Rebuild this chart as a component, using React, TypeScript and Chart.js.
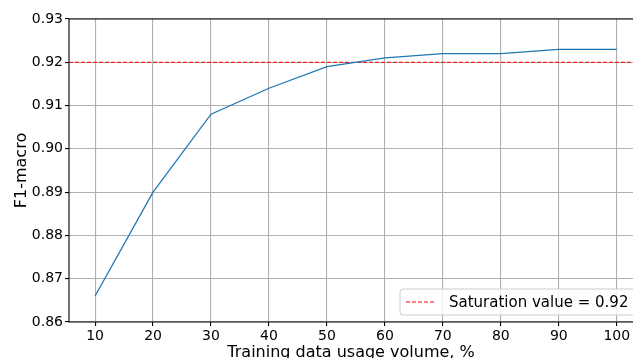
import React, { useEffect, useRef } from "react";
import { Chart, registerables } from "chart.js";

Chart.register(...registerables);

const USAGE = [10, 20, 30, 40, 50, 60, 70, 80, 90, 100];
const F1_MACRO = [0.866, 0.890, 0.908, 0.914, 0.919, 0.921, 0.922, 0.922, 0.923, 0.923];
const SATURATION = 0.92;
const X_TICKS = [10, 20, 30, 40, 50, 60, 70, 80, 90, 100];
const Y_TICKS = [0.86, 0.87, 0.88, 0.89, 0.90, 0.91, 0.92, 0.93];
const X_MIN = 5.5;
const X_MAX = 102.8;
const LEGEND_LABEL = "Saturation value = 0.92";
const X_TITLE = "Training data usage volume, %";
const Y_TITLE = "F1-macro";

const W = 633;
const H = 358;
const FONT = "DejaVu Sans";

const overlay = {
  id: "mplOverlay",
  afterDatasetsDraw(chart: any) {
    const { ctx, chartArea } = chart;
    const { left, right, top, bottom } = chartArea;
    ctx.save();
    // spines
    ctx.strokeStyle = "#000";
    ctx.lineWidth = 1.1;
    ctx.beginPath();
    ctx.moveTo(left, top);
    ctx.lineTo(right + 2, top);
    ctx.moveTo(left, top);
    ctx.lineTo(left, bottom);
    ctx.lineTo(right + 2, bottom);
    ctx.stroke();

    // legend
    const bx = 400, by = 289, bw = 240, bh = 26, r = 3;
    ctx.beginPath();
    ctx.moveTo(bx + r, by);
    ctx.lineTo(bx + bw - r, by);
    ctx.arcTo(bx + bw, by, bx + bw, by + r, r);
    ctx.lineTo(bx + bw, by + bh - r);
    ctx.arcTo(bx + bw, by + bh, bx + bw - r, by + bh, r);
    ctx.lineTo(bx + r, by + bh);
    ctx.arcTo(bx, by + bh, bx, by + bh - r, r);
    ctx.lineTo(bx, by + r);
    ctx.arcTo(bx, by, bx + r, by, r);
    ctx.closePath();
    ctx.fillStyle = "rgba(255,255,255,0.8)";
    ctx.fill();
    ctx.strokeStyle = "#cccccc";
    ctx.lineWidth = 1;
    ctx.stroke();

    const cy = by + bh / 2;
    ctx.strokeStyle = "#ff0000";
    ctx.lineWidth = 1;
    ctx.setLineDash([4, 2]);
    ctx.beginPath();
    ctx.moveTo(406, cy);
    ctx.lineTo(436, cy);
    ctx.stroke();
    ctx.setLineDash([]);

    ctx.fillStyle = "#000";
    ctx.font = `15px '${FONT}'`;
    ctx.textBaseline = "middle";
    ctx.textAlign = "left";
    ctx.fillText(LEGEND_LABEL, 449, cy + 1);

    // axis titles
    ctx.font = `16px '${FONT}'`;
    ctx.textAlign = "center";
    ctx.textBaseline = "alphabetic";
    ctx.fillText(X_TITLE, 351, 356.5);
    ctx.save();
    ctx.translate(26, (top + bottom) / 2);
    ctx.rotate(-Math.PI / 2);
    ctx.textBaseline = "alphabetic";
    ctx.fillText(Y_TITLE, 0, 0);
    ctx.restore();
    ctx.restore();
  },
};

export default function App() {
  const ref = useRef<HTMLCanvasElement | null>(null);
  useEffect(() => {
    if (!ref.current) return;
    const chart = new Chart(ref.current, {
      type: "line",
      data: {
        datasets: [
          {
            label: "F1",
            data: USAGE.map((x, i) => ({ x, y: F1_MACRO[i] })),
            borderColor: "#1f77b4",
            borderWidth: 1.3,
            pointRadius: 0,
            tension: 0,
            fill: false,
          },
          {
            label: LEGEND_LABEL,
            data: [
              { x: X_MIN, y: SATURATION },
              { x: X_MAX, y: SATURATION },
            ],
            borderColor: "#ff0000",
            borderWidth: 1,
            borderDash: [4, 2],
            pointRadius: 0,
            fill: false,
          },
        ],
      },
      options: {
        responsive: false,
        animation: false,
        devicePixelRatio: 1,
        layout: { padding: { top: 19, left: 0, right: 0, bottom: 0 } },
        plugins: { legend: { display: false }, tooltip: { enabled: false } },
        scales: {
          x: {
            type: "linear",
            min: X_MIN,
            max: X_MAX,
            afterBuildTicks: (s: any) => {
              s.ticks = X_TICKS.map((v) => ({ value: v }));
            },
            afterFit: (s: any) => {
              s.height = H - 322;
            },
            ticks: {
              color: "#000",
              font: { family: FONT, size: 14 },
              padding: 2,
              maxRotation: 0,
              autoSkip: false,
              callback: (v: any) => String(v),
            },
            grid: {
              color: "#b0b0b0",
              lineWidth: 1.1,
              drawTicks: true,
              tickLength: 4,
              tickColor: "#000",
              tickWidth: 1.1,
            },
            border: { display: false },
          },
          y: {
            type: "linear",
            min: 0.86,
            max: 0.93,
            afterBuildTicks: (s: any) => {
              s.ticks = Y_TICKS.map((v) => ({ value: v }));
            },
            afterFit: (s: any) => {
              s.width = 69;
            },
            ticks: {
              color: "#000",
              font: { family: FONT, size: 14 },
              padding: 2,
              autoSkip: false,
              callback: (v: any) => Number(v).toFixed(2),
            },
            grid: {
              color: "#b0b0b0",
              lineWidth: 1.1,
              drawTicks: true,
              tickLength: 4,
              tickColor: "#000",
              tickWidth: 1.1,
            },
            border: { display: false },
          },
        },
      },
      plugins: [overlay],
    });
    return () => chart.destroy();
  }, []);
  return (
    <div style={{ position: "fixed", left: 0, top: 0, width: W, height: H, background: "#fff" }}>
      <canvas ref={ref} width={W} height={H} style={{ width: W, height: H, display: "block" }} />
    </div>
  );
}
